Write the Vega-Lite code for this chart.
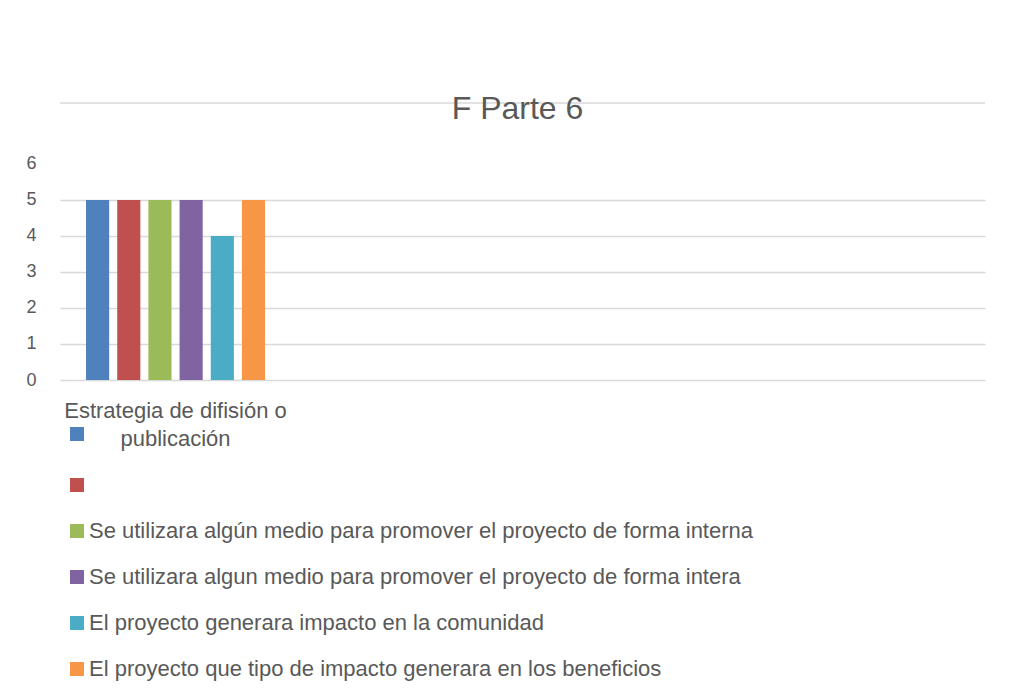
{
  "$schema": "https://vega.github.io/schema/vega-lite/v6.json",
  "width": 925,
  "height": 277,
  "autosize": {"type": "none"},
  "padding": {"left": 60, "top": 103, "right": 25, "bottom": 312},
  "background": "white",
  "config": {"font": "Liberation Sans", "view": {"stroke": null}},
  "title": {
    "text": "F Parte 6",
    "fontSize": 32,
    "font": "Liberation Sans",
    "fontWeight": "normal",
    "color": "#595959",
    "anchor": "middle",
    "baseline": "alphabetic",
    "offset": -16,
    "dy": 33,
    "dx": -5
  },
  "data": {
    "values": [
      {"categoria": "1", "serie": "Estrategia de difisión o publicación", "valor": 5},
      {"categoria": "1", "serie": "", "valor": 5},
      {"categoria": "1", "serie": "Se utilizara algún medio para promover el proyecto de forma interna", "valor": 5},
      {"categoria": "1", "serie": "Se utilizara algun medio para promover el proyecto de forma intera", "valor": 5},
      {"categoria": "1", "serie": "El proyecto generara impacto en la comunidad", "valor": 4},
      {"categoria": "1", "serie": "El proyecto que tipo de impacto generara en los beneficios", "valor": 5}
    ]
  },
  "layer": [
    {
      "mark": {"type": "bar"},
      "encoding": {
        "x": {
          "field": "categoria",
          "type": "nominal",
          "scale": {"paddingInner": 0.52, "paddingOuter": 1, "align": 0.0349},
          "axis": null
        },
        "xOffset": {
          "field": "serie",
          "type": "nominal",
          "sort": null,
          "scale": {
            "domain": [
              "Estrategia de difisión o publicación",
              "",
              "Se utilizara algún medio para promover el proyecto de forma interna",
              "Se utilizara algun medio para promover el proyecto de forma intera",
              "El proyecto generara impacto en la comunidad",
              "El proyecto que tipo de impacto generara en los beneficios"
            ],
            "paddingInner": 0.258,
            "paddingOuter": 0
          }
        },
        "y": {
          "field": "valor",
          "type": "quantitative",
          "scale": {"domain": [0, 7.69], "nice": false, "zero": true},
          "axis": {
            "values": [0, 1, 2, 3, 4, 5, 6],
            "title": null,
            "ticks": false,
            "domain": false,
            "labelPadding": 24,
            "labelFontSize": 18,
            "labelFont": "Liberation Sans",
            "labelColor": "#595959",
            "gridColor": "#d9d9d9",
            "gridWidth": 1.5,
            "gridOpacity": {"condition": {"test": "datum.value === 6", "value": 0}, "value": 1}
          }
        },
        "color": {
          "field": "serie",
          "type": "nominal",
          "sort": null,
          "scale": {
            "domain": [
              "Estrategia de difisión o publicación",
              "",
              "Se utilizara algún medio para promover el proyecto de forma interna",
              "Se utilizara algun medio para promover el proyecto de forma intera",
              "El proyecto generara impacto en la comunidad",
              "El proyecto que tipo de impacto generara en los beneficios"
            ],
            "range": ["#4f81bd", "#c0504d", "#9bbb59", "#8064a2", "#4bacc6", "#f79646"]
          },
          "legend": {
            "orient": "none",
            "legendX": 6,
            "legendY": 320,
            "title": null,
            "padding": 0,
            "symbolType": "square",
            "symbolSize": 196,
            "symbolStrokeWidth": 0,
            "labelFont": "Liberation Sans",
            "labelFontSize": 22,
            "labelColor": "#595959",
            "labelLimit": 1000,
            "labelOffset": 1,
            "rowPadding": 24,
            "labelExpr": "datum.value === 'Estrategia de difisión o publicación' ? ['Estrategia de difisión o', 'publicación'] : datum.label",
            "encode": {
              "labels": {
                "update": {
                  "align": {"signal": "datum.value === 'Estrategia de difisión o publicación' ? 'center' : 'left'"},
                  "dx": {"signal": "datum.value === 'Estrategia de difisión o publicación' ? 86.5 : 0"},
                  "dy": {"signal": "datum.value === 'Estrategia de difisión o publicación' ? -23.5 : 0"},
                  "lineHeight": {"value": 28}
                }
              }
            }
          }
        }
      }
    },
    {
      "data": {"values": [{}]},
      "mark": {"type": "rule", "color": "#d9d9d9", "strokeWidth": 1.5},
      "encoding": {"y": {"datum": 7.69, "type": "quantitative"}}
    }
  ]
}
